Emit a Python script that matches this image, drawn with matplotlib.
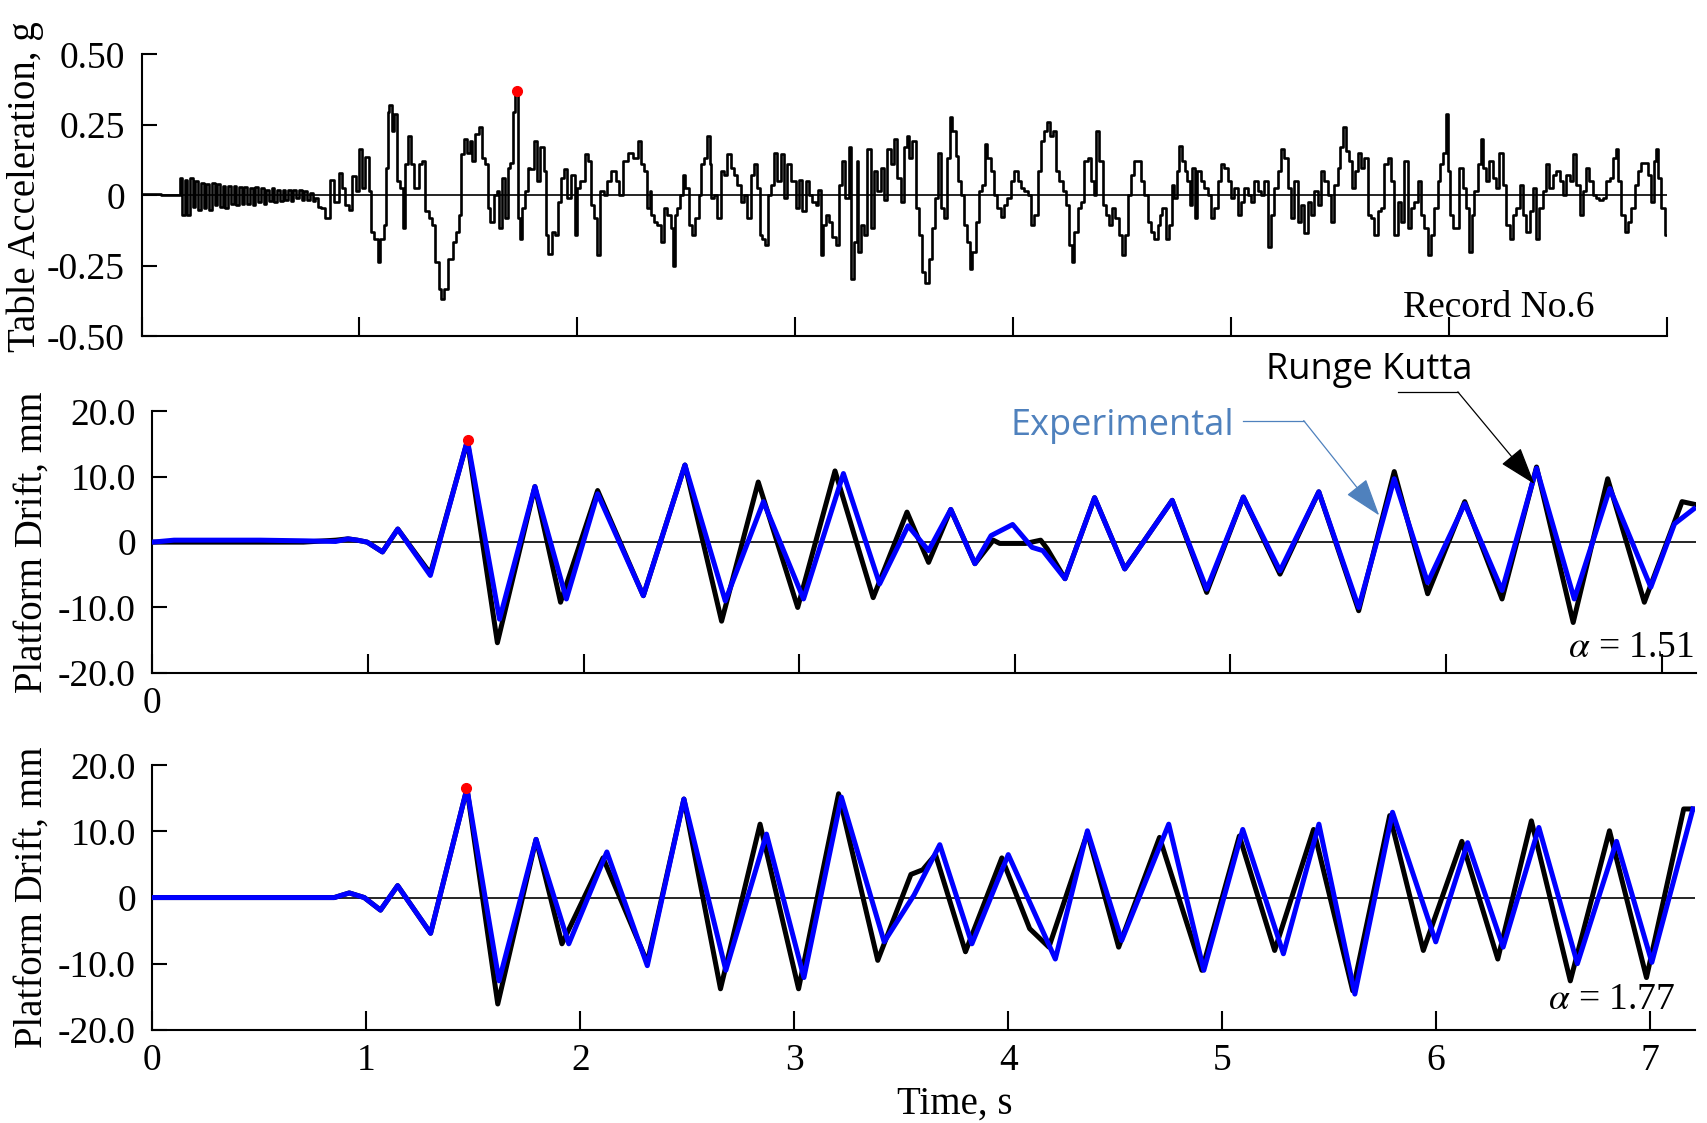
import matplotlib.pyplot as plt

plt.rcParams['font.family'] = ['Liberation Serif', 'DejaVu Serif']
plt.rcParams['mathtext.fontset'] = 'stix'

# ---- table acceleration record (g) ----
acc_t = [0.0, 0.085, 0.09, 0.17, 0.18, 0.19, 0.205, 0.215, 0.23, 0.24, 0.255, 0.265, 0.28, 0.29,
         0.305, 0.315, 0.33, 0.34, 0.355, 0.365, 0.38, 0.39, 0.405, 0.415, 0.43, 0.44, 0.455, 0.465,
         0.48, 0.49, 0.505, 0.515, 0.53, 0.54, 0.555, 0.565, 0.58, 0.59, 0.605, 0.615, 0.63, 0.64,
         0.655, 0.665, 0.68, 0.69, 0.705, 0.715, 0.73, 0.74, 0.755, 0.765, 0.78, 0.79, 0.805, 0.815,
         0.828, 0.858, 0.874, 0.897, 0.912, 0.927, 0.943, 0.958, 0.973, 0.996, 1.004, 1.019, 1.034,
         1.050, 1.055, 1.080, 1.088, 1.103, 1.119, 1.126, 1.134, 1.142, 1.157, 1.165, 1.180, 1.195,
         1.203, 1.218, 1.230, 1.241, 1.264, 1.280, 1.295, 1.310, 1.325, 1.341, 1.356, 1.371, 1.379,
         1.394, 1.417, 1.440, 1.448, 1.463, 1.471, 1.486, 1.502, 1.509, 1.524, 1.540, 1.555, 1.570,
         1.586, 1.593, 1.609, 1.624, 1.639, 1.647, 1.662, 1.678, 1.685, 1.701, 1.711, 1.721, 1.731,
         1.739, 1.754, 1.770, 1.777, 1.793, 1.808, 1.823, 1.839, 1.854, 1.861, 1.874, 1.892, 1.907,
         1.920, 1.930, 1.946, 1.961, 1.984, 1.992, 2.007, 2.022, 2.045, 2.057, 2.068, 2.083, 2.099,
         2.114, 2.129, 2.145, 2.168, 2.183, 2.198, 2.221, 2.244, 2.267, 2.286, 2.298, 2.313, 2.329,
         2.336, 2.344, 2.359, 2.374, 2.390, 2.405, 2.420, 2.436, 2.443, 2.451, 2.466, 2.481, 2.489,
         2.504, 2.520, 2.535, 2.550, 2.563, 2.573, 2.589, 2.604, 2.612, 2.619, 2.635, 2.650, 2.665,
         2.681, 2.696, 2.711, 2.727, 2.742, 2.757, 2.772, 2.788, 2.803, 2.818, 2.834, 2.841, 2.857,
         2.869, 2.880, 2.895, 2.910, 2.926, 2.941, 2.956, 2.972, 2.987, 3.002, 3.010, 3.025, 3.040,
         3.056, 3.071, 3.086, 3.102, 3.109, 3.125, 3.132, 3.148, 3.163, 3.178, 3.194, 3.209, 3.221,
         3.240, 3.252, 3.263, 3.278, 3.285, 3.293, 3.308, 3.324, 3.339, 3.354, 3.370, 3.385, 3.400,
         3.416, 3.431, 3.446, 3.462, 3.477, 3.492, 3.508, 3.518, 3.530, 3.546, 3.561, 3.576, 3.592,
         3.604, 3.622, 3.638, 3.650, 3.661, 3.676, 3.691, 3.707, 3.714, 3.730, 3.742, 3.753, 3.768,
         3.783, 3.798, 3.806, 3.821, 3.837, 3.852, 3.867, 3.875, 3.890, 3.906, 3.921, 3.936, 3.952,
         3.967, 3.982, 3.998, 4.013, 4.028, 4.044, 4.059, 4.074, 4.089, 4.105, 4.120, 4.135, 4.151,
         4.161, 4.174, 4.189, 4.204, 4.220, 4.235, 4.250, 4.266, 4.273, 4.289, 4.304, 4.319, 4.334,
         4.350, 4.365, 4.377, 4.388, 4.403, 4.419, 4.434, 4.446, 4.462, 4.477, 4.495, 4.508, 4.518,
         4.534, 4.549, 4.564, 4.579, 4.595, 4.610, 4.625, 4.641, 4.656, 4.671,
         4.678, 4.693, 4.709, 4.724, 4.732, 4.747, 4.755, 4.770, 4.782, 4.793, 4.808, 4.816, 4.831,
         4.839, 4.854, 4.869, 4.885, 4.900, 4.915, 4.931, 4.946, 4.961, 4.977, 4.992, 5.007, 5.023,
         5.038, 5.053, 5.069, 5.084, 5.099, 5.114, 5.130, 5.145, 5.160, 5.176, 5.191, 5.206, 5.222,
         5.237, 5.252, 5.268, 5.283, 5.298, 5.314, 5.329, 5.344, 5.359, 5.375, 5.390, 5.405, 5.421,
         5.436, 5.451, 5.467, 5.482, 5.497, 5.508, 5.520, 5.533, 5.548, 5.563, 5.574, 5.589, 5.604,
         5.620, 5.635, 5.650, 5.666, 5.681, 5.696, 5.712, 5.727, 5.742, 5.758, 5.773, 5.788, 5.804,
         5.819, 5.834, 5.849, 5.865, 5.880, 5.895, 5.911, 5.926, 5.941, 5.957, 5.964, 5.980, 5.992,
         5.998, 6.010, 6.026, 6.041, 6.056, 6.072, 6.087, 6.102, 6.110, 6.125, 6.140, 6.151, 6.163,
         6.179, 6.194, 6.209, 6.225, 6.240, 6.255, 6.271, 6.286, 6.301, 6.317, 6.332, 6.347, 6.363,
         6.378, 6.393, 6.408, 6.424, 6.439, 6.454, 6.470, 6.485, 6.500, 6.516, 6.531, 6.546, 6.562,
         6.577, 6.592, 6.608, 6.623, 6.638, 6.653, 6.669, 6.684, 6.699, 6.715, 6.730, 6.745, 6.761,
         6.770, 6.784, 6.799, 6.814, 6.830, 6.845, 6.860, 6.876, 6.891, 6.906, 6.922, 6.937, 6.944,
         6.957, 6.967, 6.983, 6.998, 7.013]
acc_g = [0.005, 0.005, 0.0, 0.0, 0.06, -0.07, 0.055, -0.07, 0.06, -0.04, 0.05, -0.05, 0.045, -0.045,
         0.04, -0.05, 0.045, -0.035, 0.04, -0.04, 0.035, -0.045, 0.035, -0.03, 0.035, -0.035, 0.03, -0.03,
         0.03, -0.03, 0.025, -0.035, 0.03, -0.025, 0.025, -0.03, 0.02, -0.02, 0.025, -0.025, 0.02, -0.02,
         0.02, -0.015, 0.02, -0.02, 0.02, -0.01, 0.02, -0.015, 0.015, -0.015, 0.01, -0.02, -0.01, -0.04,
         -0.045, -0.081, 0.056, -0.022, 0.080, 0.026, -0.033, -0.051, 0.068, 0.014, 0.164, 0.026, 0.136,
         0.014, -0.129, -0.153, -0.237, -0.153, -0.105, 0.098, 0.295, 0.319, 0.230, 0.289, 0.050, 0.026,
         -0.117, 0.110, 0.212, 0.110, 0.026, 0.110, 0.122, -0.057, -0.081, -0.105, -0.237, -0.333, -0.368,
         -0.333, -0.225, -0.165, -0.129, -0.069, 0.146, 0.200, 0.152, 0.194, 0.122, 0.218, 0.242, 0.134,
         0.110, -0.045, -0.093, 0.002, 0.014, -0.117, 0.062, -0.081, 0.098, 0.116, 0.295, 0.360, -0.081,
         -0.153, -0.045, 0.014, 0.098, 0.092, 0.194, 0.050, 0.170, 0.086, -0.141, -0.207, -0.129, -0.141,
         -0.022, 0.062, 0.092, -0.010, 0.074, -0.141, 0.026, 0.050, 0.146, 0.122, -0.033, -0.081, -0.213,
         0.014, 0.002, 0.050, 0.086, 0.050, 0.002, 0.122, 0.152, 0.134, 0.194, 0.110, 0.086, -0.045,
         0.014, -0.069, -0.093, -0.105, -0.165, -0.045, -0.069, -0.117, -0.249, -0.069, -0.045, 0.002, 0.074,
         0.026, -0.105, -0.141, -0.081, 0.002, 0.110, 0.134, 0.212, 0.110, -0.010, 0.002, -0.081, 0.086,
         0.074, 0.146, 0.098, 0.074, 0.038, -0.022, 0.002, -0.081, 0.074, 0.110, 0.026, -0.141, -0.153,
         -0.177, 0.002, 0.038, 0.152, 0.050, 0.146, -0.010, 0.110, 0.050, 0.050, -0.045, 0.056, -0.057,
         0.050, 0.002, -0.022, -0.033, 0.020, -0.213, -0.105, -0.069, -0.093, -0.147, -0.177, 0.038, 0.122,
         -0.010, 0.170, -0.297, -0.165, 0.122, -0.201, -0.105, -0.141, 0.164, -0.117, 0.086, 0.014, 0.098,
         -0.016, 0.164, 0.110, 0.200, 0.062, -0.022, 0.170, 0.212, 0.134, 0.194, -0.045, -0.141, -0.273,
         -0.309, -0.225, -0.117, -0.010, 0.152, -0.045, -0.081, 0.134, 0.278, 0.230, 0.140, 0.050, 0.002,
         -0.105, -0.165, -0.261, -0.201, -0.093, 0.014, 0.038, 0.182, 0.134, 0.086, 0.002, -0.045, -0.075,
         -0.033, -0.010, 0.050, 0.086, 0.050, 0.026, 0.014, 0.002, -0.105, -0.069, 0.086, 0.194, 0.230,
         0.260, 0.212, 0.230, 0.086, 0.050, 0.014, -0.033, -0.177, -0.237, -0.129, -0.045, -0.022, 0.122,
         0.134, 0.050, 0.002, 0.230, 0.122, -0.033, -0.069, -0.105, -0.045, -0.081, -0.141, -0.213, -0.141,
         0.002, 0.074, 0.122, 0.122, 0.050, 0.002, -0.093, -0.129, -0.153, -0.105,
         -0.069, -0.045, -0.153, -0.105, 0.038, -0.010, 0.086, 0.176, 0.122, 0.086, 0.050, -0.033, 0.098,
         -0.081, 0.086, 0.050, 0.026, 0.002, -0.081, -0.045, 0.050, 0.110, 0.098, 0.050, -0.010, 0.026,
         -0.069, -0.022, 0.026, 0.002, -0.022, 0.050, 0.014, 0.002, 0.050, -0.183, -0.069, 0.026, 0.086,
         0.164, 0.134, 0.026, -0.081, 0.050, -0.093, -0.033, -0.135, -0.022, -0.069, 0.014, -0.033, 0.086,
         0.050, 0.002, -0.093, 0.038, 0.098, 0.170, 0.242, 0.158, 0.122, 0.026, 0.086, 0.152, 0.098,
         0.134, -0.069, -0.081, -0.141, -0.057, -0.045, 0.110, 0.134, 0.050, -0.141, -0.022, -0.093, 0.122,
         -0.117, -0.045, -0.022, 0.050, -0.069, -0.117, -0.213, -0.141, -0.045, 0.050, 0.110, 0.152, 0.289,
         0.086, -0.069, -0.117, -0.117, 0.098, 0.026, -0.045, -0.201, -0.069, 0.014, 0.110, 0.200, 0.098,
         0.050, 0.122, 0.062, 0.026, 0.152, 0.038, -0.105, -0.153, -0.069, -0.045, 0.038, -0.069, -0.129,
         -0.057, 0.026, -0.153, -0.045, 0.014, 0.110, 0.026, 0.074, 0.086, 0.050, 0.002, 0.074, 0.050,
         0.146, 0.038, -0.069, 0.014, 0.098, 0.050, 0.002, -0.010, -0.016, -0.010, 0.050, 0.062, 0.134,
         0.164, 0.050, -0.069, -0.129, -0.093, -0.045, 0.038, 0.086, 0.116, 0.116, 0.074, -0.022, 0.122,
         0.164, 0.062, -0.045, -0.141, -0.033]
acc_peak = (1.723, 0.37)

# ---- platform drift, alpha = 1.51 ----
rk1_t = [0, 0.1, 0.3, 0.5, 0.7, 0.85, 0.907, 0.95, 0.996, 1.067, 1.138, 1.289, 1.461, 1.60, 1.774,
         1.893, 2.065, 2.277, 2.47, 2.64, 2.81, 2.993, 3.166, 3.343, 3.50, 3.60, 3.703, 3.815, 3.90,
         3.93, 4.05, 4.12, 4.15, 4.233, 4.37, 4.51, 4.73, 4.89, 5.06, 5.23, 5.41, 5.595, 5.76, 5.915,
         6.087, 6.26, 6.42, 6.59, 6.75, 6.92, 7.095, 7.15]
rk1_mm = [0, 0, 0, 0, 0, 0.3, 0.5, 0.3, 0, -1.5, 2.0, -4.8, 15.5, -15.4, 8.5,
          -9.2, 7.9, -8.2, 11.8, -12.1, 9.2, -10.0, 10.9, -8.5, 4.6, -3.1, 5.0, -3.3, 0.3,
          -0.2, -0.2, 0.3, -1.0, -5.6, 6.8, -4.1, 6.4, -7.7, 6.9, -4.9, 7.7, -10.5, 10.8, -7.9,
          6.2, -8.7, 11.5, -12.3, 9.7, -9.2, 6.2, 5.8]
ex1_t = [0, 0.1, 0.3, 0.5, 0.7, 0.85, 0.907, 0.95, 0.996, 1.067, 1.138, 1.289, 1.461, 1.61, 1.774,
         1.92, 2.065, 2.277, 2.47, 2.657, 2.834, 3.02, 3.205, 3.373, 3.505, 3.60, 3.703, 3.815, 3.89,
         3.99, 4.08, 4.13, 4.233, 4.37, 4.51, 4.73, 4.89, 5.06, 5.23, 5.41, 5.595, 5.76, 5.915, 6.087,
         6.26, 6.42, 6.595, 6.76, 6.95, 7.06, 7.15]
ex1_mm = [0, 0.3, 0.3, 0.3, 0.2, 0.1, 0.5, 0.3, 0, -1.5, 2.0, -5.1, 15.6, -11.8, 8.5,
          -8.7, 7.4, -8.2, 11.8, -9.0, 6.2, -8.7, 10.5, -6.4, 2.5, -1.3, 5.0, -3.3, 1.0,
          2.7, -0.8, -1.3, -5.6, 6.8, -4.1, 6.4, -7.2, 6.9, -4.4, 7.7, -10.0, 9.7, -6.2, 5.9,
          -7.4, 11.3, -8.7, 8.2, -6.9, 2.8, 5.1]
peak1 = (1.462, 15.6)

# ---- platform drift, alpha = 1.77 ----
rk2_t = [0, 0.5, 0.85, 0.92, 0.99, 1.066, 1.146, 1.30, 1.47, 1.614, 1.793, 1.914, 2.106, 2.313,
         2.484, 2.655, 2.84, 3.02, 3.207, 3.39, 3.545, 3.60, 3.66, 3.80, 3.97, 4.10, 4.19, 4.37,
         4.516, 4.707, 4.905, 5.08, 5.245, 5.427, 5.61, 5.783, 5.94, 6.12, 6.288, 6.445, 6.627,
         6.81, 6.983, 7.157, 7.21]
rk2_mm = [0, 0, 0, 0.7, 0, -1.9, 1.8, -5.4, 16.5, -16.1, 8.8, -7.0, 6.0, -9.8,
          14.9, -13.8, 11.1, -13.8, 15.7, -9.5, 3.5, 4.2, 6.5, -8.2, 6.0, -4.7, -7.5, 9.8,
          -7.5, 9.1, -11.0, 9.3, -8.0, 10.3, -14.1, 12.4, -8.0, 8.5, -9.3, 11.6, -12.6,
          10.1, -12.1, 13.4, 13.4]
ex2_t = [0, 0.5, 0.85, 0.92, 0.99, 1.066, 1.146, 1.30, 1.47, 1.62, 1.793, 1.946, 2.124, 2.313,
         2.484, 2.68, 2.87, 3.045, 3.22, 3.42, 3.56, 3.68, 3.83, 4.0, 4.22, 4.37, 4.53, 4.75,
         4.914, 5.096, 5.286, 5.452, 5.62, 5.796, 5.998, 6.147, 6.313, 6.48, 6.66, 6.843, 7.008, 7.2]
ex2_mm = [0, 0, 0, 0.7, 0, -1.9, 1.8, -5.4, 16.5, -12.6, 8.8, -7.0, 6.9, -10.3,
          14.9, -11.0, 9.6, -12.1, 15.2, -6.7, 0.4, 8.0, -7.0, 6.5, -9.3, 10.1, -6.5, 11.1,
          -11.0, 10.3, -8.5, 11.1, -14.6, 12.9, -6.7, 8.3, -7.5, 10.6, -10.0, 8.5, -9.8, 13.4]
peak2 = (1.465, 16.6)

time_ticks = [0, 1, 2, 3, 4, 5, 6, 7]
acc_ticks = [-0.5, -0.25, 0, 0.25, 0.5]
acc_labels = ['-0.50', '-0.25', '0', '0.25', '0.50']
drift_ticks = [-20, -10, 0, 10, 20]
drift_labels = ['-20.0', '-10.0', '0', '10.0', '20.0']

exp_color = '#4f81bd'
arrow_style = '-|>,head_length=1.2,head_width=0.4'


def style(ax):
    ax.spines['right'].set_visible(False)
    ax.spines['top'].set_visible(False)
    ax.spines['left'].set_linewidth(1.5)
    ax.spines['bottom'].set_linewidth(1.5)
    ax.tick_params(axis='y', direction='in', length=11, width=1.5, pad=12, labelsize=27)
    ax.tick_params(axis='x', direction='in', length=14, width=1.5, pad=10, labelsize=27)
    ax.axhline(0, color='black', lw=1.2, zorder=1)


fig = plt.figure(figsize=(17.07, 11.23), dpi=100)
ax1 = fig.add_axes([0.0829, 0.7004, 0.8935, 0.2512])
ax2 = fig.add_axes([0.0893, 0.4009, 0.9043, 0.2327])
ax3 = fig.add_axes([0.0893, 0.0830, 0.9037, 0.2355])

# top: table acceleration
style(ax1)
ax1.plot(acc_t, acc_g, color='black', lw=1.9, drawstyle='steps-mid', zorder=2)
ax1.plot(*acc_peak, 'o', color='red', ms=7, zorder=3)
ax1.set_xlim(0, 7.0)
ax1.set_ylim(-0.5, 0.5)
ax1.set_xticks(time_ticks)
ax1.set_xticklabels([])
ax1.set_yticks(acc_ticks)
ax1.set_yticklabels(acc_labels)
ax1.set_ylabel('Table Acceleration, g', fontsize=28)
ax1.yaxis.set_label_coords(-0.064, 0.53)
ax1.text(6.23, -0.40, 'Record No.6', fontsize=27, ha='center', va='center')

# middle: alpha = 1.51
style(ax2)
ax2.plot(rk1_t, rk1_mm, color='black', lw=3.6, solid_joinstyle='round', zorder=2)
ax2.plot(ex1_t, ex1_mm, color='#0000ff', lw=3.6, solid_joinstyle='round', zorder=3)
ax2.plot(*peak1, 'o', color='red', ms=7, zorder=4)
ax2.set_xlim(0, 7.16)
ax2.set_ylim(-20, 20)
ax2.set_xticks(time_ticks)
ax2.set_xticklabels(['0'] + [''] * 7)
ax2.set_yticks(drift_ticks)
ax2.set_yticklabels(drift_labels)
ax2.set_ylabel('Platform Drift, mm', fontsize=28)
ax2.yaxis.set_label_coords(-0.066, 0.5)
ax2.text(7.149, -16.2, r'$\alpha$ = 1.51', fontsize=27, ha='right', va='center')

# leaders
ax2.text(5.015, 17.7, 'Experimental', family='Open Sans', fontsize=26, color=exp_color,
         ha='right', va='center')
ax2.plot([5.06, 5.34], [18.6, 18.6], color=exp_color, lw=0.9, clip_on=False)
ax2.annotate('', xy=(5.69, 4.1), xytext=(5.34, 18.6),
             arrowprops=dict(arrowstyle=arrow_style, mutation_scale=20,
                             color=exp_color, lw=0.9, shrinkA=0, shrinkB=0), annotation_clip=False)
ax2.text(5.646, 26.4, 'Runge Kutta', family='Open Sans', fontsize=26, color='black',
         ha='center', va='center', clip_on=False)
ax2.plot([5.776, 6.055], [23.0, 23.0], color='black', lw=0.9, clip_on=False)
ax2.annotate('', xy=(6.41, 8.9), xytext=(6.055, 23.0),
             arrowprops=dict(arrowstyle=arrow_style, mutation_scale=20,
                             color='black', lw=0.9, shrinkA=0, shrinkB=0), annotation_clip=False)

# bottom: alpha = 1.77
style(ax3)
ax3.plot(rk2_t, rk2_mm, color='black', lw=3.6, solid_joinstyle='round', zorder=2)
ax3.plot(ex2_t, ex2_mm, color='#0000ff', lw=3.6, solid_joinstyle='round', zorder=3)
ax3.plot(*peak2, 'o', color='red', ms=7, zorder=4)
ax3.set_xlim(0, 7.21)
ax3.set_ylim(-20, 20)
ax3.set_xticks(time_ticks)
ax3.set_yticks(drift_ticks)
ax3.set_yticklabels(drift_labels)
ax3.set_ylabel('Platform Drift, mm', fontsize=28)
ax3.yaxis.set_label_coords(-0.066, 0.5)
ax3.set_xlabel('Time, s', fontsize=28)
ax3.xaxis.set_label_coords(0.52, -0.21)
ax3.text(7.116, -15.4, r'$\alpha$ = 1.77', fontsize=27, ha='right', va='center')

plt.savefig('out.png', dpi=100)
